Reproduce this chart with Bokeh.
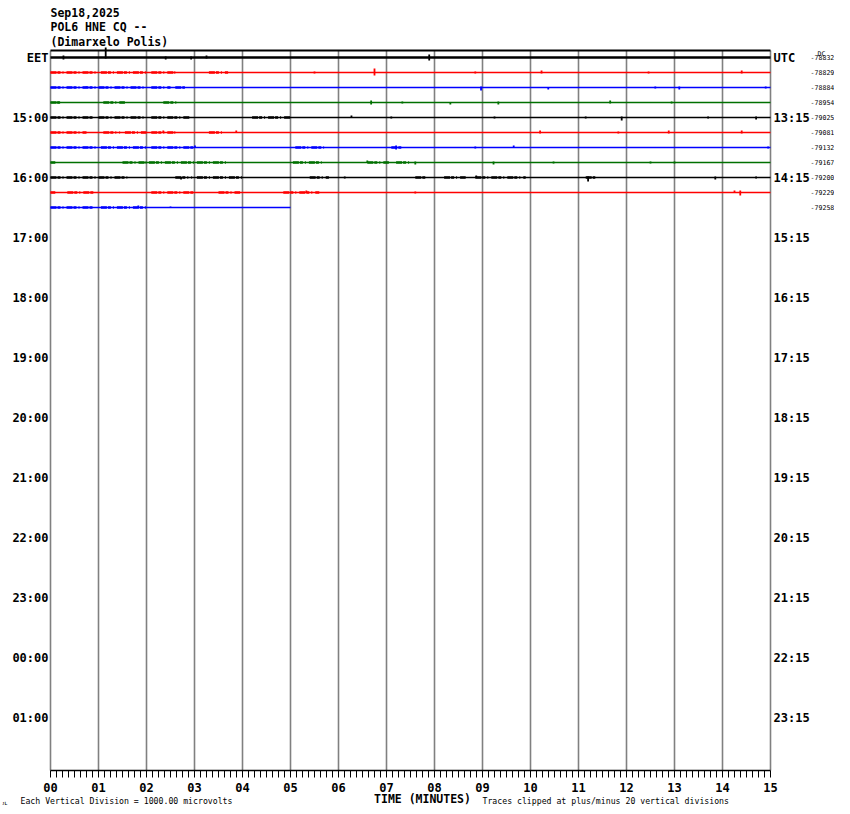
import numpy as np
from bokeh.plotting import figure
from bokeh.models import Range1d
from bokeh.core.properties import value
from bokeh.embed import file_html
from bokeh.resources import INLINE

# ---------------- data ----------------
title_lines = ["Sep18,2025", "POL6 HNE CQ --", "(Dimarxelo Polis)"]
eet_rows = [0, 4, 8, 12, 16, 20, 24, 28, 32, 36, 40, 44]
eet_labels = ["EET", "15:00", "16:00", "17:00", "18:00", "19:00", "20:00",
              "21:00", "22:00", "23:00", "00:00", "01:00"]
utc_labels = ["UTC", "13:15", "14:15", "15:15", "16:15", "17:15", "18:15",
              "19:15", "20:15", "21:15", "22:15", "23:15"]
trace_rows = list(range(11))
trace_colors = ["black", "red", "blue", "#007000"] * 3
trace_end_min = [15, 15, 15, 15, 15, 15, 15, 15, 15, 15, 5.0]
trace_offsets = ["-78832", "-78829", "-78884", "-78954", "-79025", "-79081",
                 "-79132", "-79167", "-79200", "-79229", "-79258"]
minute_labels = ["%02d" % m for m in range(16)]
notes = ["Each Vertical Division = 1000.00 microvolts",
         "Traces clipped at plus/minus 20 vertical divisions"]

# spikes: row, minute, amplitude up, amplitude down (in pixels of trace deflection)
spike_row = [0, 0, 0, 0, 0, 0,
             1, 1, 1, 1, 1, 1,
             2, 2, 2, 2, 2, 2,
             3, 3, 3, 3, 3, 3, 3,
             4, 4, 4, 4, 4, 4, 4,
             5, 5, 5, 5, 5, 5,
             6, 6, 6, 6, 6,
             7, 7, 7, 7, 7, 7,
             8, 8, 8, 8, 8, 8,
             9, 9, 9, 9,
             10, 10]
spike_min = [0.27, 1.15, 2.40, 2.93, 3.25, 7.89,
             5.50, 6.75, 8.85, 10.23, 12.46, 14.40,
             0.75, 8.97, 10.37, 12.60, 13.10, 14.90,
             0.15, 6.68, 7.33, 8.33, 9.33, 11.66, 12.94,
             6.27, 7.10, 9.25, 11.15, 11.90, 13.70, 14.70,
             2.35, 3.87, 10.20, 11.83, 12.88, 14.40,
             3.01, 7.20, 8.85, 9.65, 14.95,
             6.60, 7.60, 9.23, 10.48, 12.50, 13.00,
             2.72, 6.13, 8.87, 11.20, 13.85, 14.70,
             5.33, 7.60, 14.25, 14.37,
             1.83, 2.50]
spike_up = [2, 10, 1, 1, 2, 3,
            1, 4, 1, 2, 1, 2,
            1, 1, 0, 1, 1, 1,
            1, 2, 1, 0, 1, 2, 1,
            2, 1, 1, 1, 1, 1, 1,
            2, 2, 2, 1, 2, 2,
            2, 2, 1, 2, 1,
            2, 1, 1, 1, 1, 1,
            0, 1, 2, 1, 1, 1,
            2, 1, 2, 2,
            2, 1]
spike_down = [2, 1, 2, 2, 1, 3,
              1, 3, 1, 1, 1, 1,
              0, 3, 2, 1, 2, 1,
              1, 2, 1, 2, 2, 1, 1,
              0, 1, 1, 1, 3, 1, 2,
              0, 0, 1, 1, 1, 1,
              0, 2, 1, 0, 1,
              0, 2, 2, 1, 1, 1,
              2, 1, 0, 4, 2, 1,
              0, 1, 0, 3,
              0, 0]

# noisy (speckled) stretches of trace: row, start minute, end minute
noise_row = [1, 1, 1, 1,
             2, 2, 2,
             3, 3, 3,
             4, 4, 4, 4,
             5, 5, 5, 5, 5,
             6, 6, 6, 6, 6,
             7, 7, 7, 7, 7, 7,
             8, 8, 8, 8, 8, 8, 8, 8, 8,
             9, 9, 9, 9, 9,
             10, 10]
noise_start = [0.0, 1.05, 2.10, 3.30,
               0.0, 2.10, 2.60,
               0.0, 1.10, 2.35,
               0.0, 1.00, 2.10, 4.20,
               0.0, 1.10, 1.55, 2.10, 3.30,
               0.0, 1.05, 2.10, 5.10, 7.10,
               0.0, 1.50, 2.05, 5.05, 6.60, 7.20,
               0.0, 1.00, 2.60, 3.05, 5.40, 7.60, 8.20, 8.85, 11.15,
               0.0, 0.35, 2.10, 3.50, 4.85,
               0.0, 1.05]
noise_end = [1.00, 2.00, 2.60, 3.70,
             2.00, 2.50, 2.80,
             0.20, 1.55, 2.65,
             0.90, 2.00, 2.90, 5.00,
             0.75, 1.45, 2.00, 2.60, 3.60,
             0.95, 2.00, 3.00, 5.70, 7.35,
             0.10, 2.00, 3.70, 5.65, 7.05, 7.50,
             0.95, 1.60, 2.95, 4.00, 5.80, 7.85, 8.65, 9.90, 11.35,
             0.10, 0.90, 3.00, 3.95, 5.60,
             0.90, 2.00]

# ---------------- geometry helpers (image pixels -> data) ----------------
PX_MIN = 48.0   # pixels per minute
PX_ROW = 15.0   # pixels per trace row
X0, Y0 = 50.0, 57.0  # image position of minute 0 / row 0

W, H = 834, 806


def dx(px):
    return (px - X0) / PX_MIN


def dy(py):
    return (py - Y0) / PX_ROW


p = figure(width=W, height=H,
           x_range=Range1d(dx(0), dx(W)),
           y_range=Range1d(dy(H), dy(0)),
           x_axis_type=None, y_axis_type=None,
           toolbar_location=None, output_backend="svg", min_border=0)
p.outline_line_color = None
p.background_fill_color = "white"
p.border_fill_color = "white"

MONO = value("DejaVu Sans Mono")

# vertical minute grid lines
mins = np.arange(0, 16)
p.segment(x0=mins, y0=dy(50), x1=mins, y1=dy(770), line_color="#808080", line_width=1.6)

# top frame line
p.segment(x0=[0], y0=[dy(50)], x1=[15], y1=[dy(50)], line_color="black", line_width=2)

# traces
for r, c, e in zip(trace_rows, trace_colors, trace_end_min):
    p.segment(x0=[0], y0=[r], x1=[e], y1=[r], line_color=c,
              line_width=2.4 if r == 0 else 1.6)

# noisy stretches (speckled look)
p.segment(x0=noise_start, y0=noise_row, x1=noise_end, y1=noise_row,
          line_color=[trace_colors[r] for r in noise_row], line_width=2.4,
          line_dash="6 1 3 2 1 3")

# spikes
sr = np.array(spike_row, dtype=float)
p.segment(x0=spike_min, y0=sr - np.array(spike_up) / PX_ROW,
          x1=spike_min, y1=sr + np.array(spike_down) / PX_ROW + 0.001,
          line_color=[trace_colors[r] for r in spike_row], line_width=1.8)

# bottom axis
p.segment(x0=[0], y0=[dy(770)], x1=[15], y1=[dy(770)], line_color="black", line_width=1.5)
ticks = np.arange(0, 15.0001, 1 / 8)
p.segment(x0=ticks, y0=dy(770), x1=ticks, y1=dy(777), line_color="black", line_width=1)
p.text(x=mins, y=dy(787), text=minute_labels, text_font=MONO, text_font_style="bold",
       text_font_size="12px", text_align="center", text_baseline="middle")

# left (EET) labels
p.text(x=dx(48), y=eet_rows, text=eet_labels, text_font=MONO, text_font_style="bold",
       text_font_size="12px", text_align="right", text_baseline="middle")
# right (UTC) labels
p.text(x=dx(773), y=eet_rows, text=utc_labels, text_font=MONO, text_font_style="bold",
       text_font_size="12px", text_align="left", text_baseline="middle")
# trace offset values
p.text(x=dx(810), y=trace_rows, text=trace_offsets, text_font=MONO,
       text_font_size="6.6px", text_align="left", text_baseline="middle")
p.text(x=[dx(817)], y=[dy(53.5)], text=["DC"], text_font=MONO,
       text_font_size="6.5px", text_align="left", text_baseline="middle")

# header
p.text(x=dx(50), y=[dy(12), dy(26.5), dy(41)], text=title_lines, text_font=MONO,
       text_font_style="bold", text_font_size="11.5px", text_align="left",
       text_baseline="middle")

# bottom notes
p.text(x=[dx(422)], y=[dy(798.5)], text=["TIME (MINUTES)"], text_font=MONO,
       text_font_style="bold", text_font_size="11.5px", text_align="center",
       text_baseline="middle")
p.text(x=[dx(20), dx(482)], y=[dy(800), dy(800)], text=notes,
       text_font=MONO, text_font_size="8.2px", text_align="left", text_baseline="middle")
p.text(x=[dx(2)], y=[dy(801.5)], text=["ᴊʟ"], text_font=MONO, text_font_size="6px",
       text_align="left", text_baseline="middle")

open("out.html", "w").write(file_html(p, INLINE))
